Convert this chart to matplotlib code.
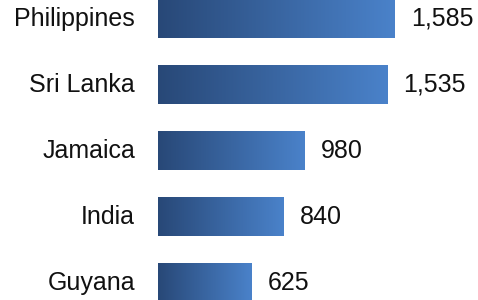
import matplotlib
matplotlib.use("Agg")
import matplotlib.pyplot as plt
import numpy as np
from matplotlib.colors import LinearSegmentedColormap

countries = ["Philippines", "Sri Lanka", "Jamaica", "India", "Guyana"]
values = [1585, 1535, 980, 840, 625]
value_labels = ["1,585", "1,535", "980", "840", "625"]

plt.rcParams['font.family'] = ['Liberation Sans', 'DejaVu Sans']

W, H = 478, 300
fig = plt.figure(figsize=(W/100, H/100), dpi=100)
left_px = 158
ax = fig.add_axes([left_px/W, 0, (W-left_px)/W, 1])
scale = 0.1495  # px per unit
ax.set_xlim(0, (W-left_px)/scale)
step = 66.1
c0 = 18.7
ax.set_ylim(4 + (H - (c0 + 4*step))/step, -c0/step)
ax.axis('off')

cmap = LinearSegmentedColormap.from_list("g", ["#284877", "#4a82ca"])
grad = np.linspace(0, 1, 256).reshape(1, -1)
bh = 0.58
for i, (v, lab, c) in enumerate(zip(values, value_labels, countries)):
    ax.imshow(grad, extent=[0, v, i + bh/2, i - bh/2], aspect='auto', cmap=cmap,
              interpolation='bilinear', zorder=2)
    ax.text(v + 16/scale, i, lab, va='center', ha='left', fontsize=18, color='#111111')
    ax.text(-23/scale, i, c, va='center', ha='right', fontsize=18, color='#111111',
            clip_on=False)

ax.set_xlim(0, (W-left_px)/scale)
ax.set_ylim(4 + (H - (c0 + 4*step))/step, -c0/step)
fig.savefig("out.png", dpi=100)
